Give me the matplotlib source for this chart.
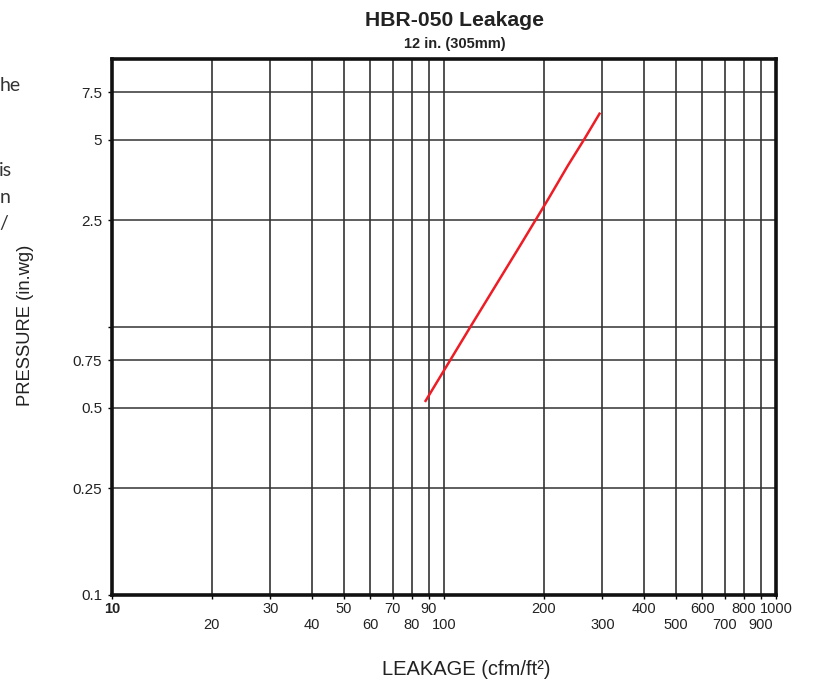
import numpy as np
import matplotlib
matplotlib.use('Agg')
import matplotlib.pyplot as plt
import matplotlib.transforms as mtransforms

plt.rcParams['font.family'] = ['Liberation Sans', 'DejaVu Sans']

# data
leakage = [88, 120, 169, 206, 236, 264, 294]
pressure = [0.53, 1.0, 2.0, 3.0, 4.0, 5.0, 6.25]

x_grid = [20, 30, 40, 50, 60, 70, 80, 90, 100, 200, 300, 400, 500, 600, 700, 800, 900]
x_upper = [10, 30, 50, 70, 90, 200, 400, 600, 800, 1000]
x_lower = [20, 40, 60, 80, 100, 300, 500, 700, 900]
y_ticks = [0.1, 0.25, 0.5, 0.75, 1.0, 2.5, 5, 7.5]
y_labels = ['0.1', '0.25', '0.5', '0.75', '', '2.5', '5', '7.5']

fig = plt.figure(figsize=(8.18, 6.82), dpi=100)
ax = fig.add_axes([0.1369, 0.1276, 0.8118, 0.7859])

ax.set_xscale('log')
ax.set_yscale('log')
ax.set_xlim(10, 1000)
ax.set_ylim(0.1, 10)

# grid
for x in x_grid:
    ax.axvline(x, color='#222222', lw=1.1, zorder=1)
for y in y_ticks[1:]:
    ax.axhline(y, color='#333333', lw=1.1, zorder=1)

ax.plot(leakage, pressure, color='#ee1c25', lw=1.8, zorder=3)

# axes frame
for s in ax.spines.values():
    s.set_linewidth(2.6)
    s.set_color('#111111')
    s.set_zorder(4)

ax.yaxis.set_major_locator(matplotlib.ticker.FixedLocator(y_ticks))
ax.yaxis.set_minor_locator(matplotlib.ticker.NullLocator())
ax.set_yticklabels(y_labels, fontsize=11, color='#222222')
ax.tick_params(axis='y', length=3, width=1, pad=4)

ax.xaxis.set_major_locator(matplotlib.ticker.FixedLocator(x_upper + x_lower))
ax.xaxis.set_minor_locator(matplotlib.ticker.NullLocator())
ax.set_xticklabels([])
ax.tick_params(axis='x', length=3, width=1)

trans = mtransforms.blended_transform_factory(ax.transData, ax.transAxes)
for x in x_upper:
    ax.text(x, -0.013, str(x), transform=trans, ha='center', va='top',
            fontsize=10.5, color='#222222', fontweight='bold' if x == 10 else 'normal')
for x in x_lower:
    ax.text(x, -0.043, str(x), transform=trans, ha='center', va='top',
            fontsize=10.5, color='#222222')

fig.text(0.031, 0.523, 'PRESSURE (in.wg)', rotation=90, ha='center', va='center',
         fontsize=13.2, color='#222222')
fig.text(0.570, 0.018, 'LEAKAGE (cfm/ft\u00b2)', ha='center', va='center',
         fontsize=14.5, color='#222222')

fig.text(0.556, 0.970, 'HBR-050 Leakage', ha='center', va='center',
         fontsize=15.2, fontweight='bold', color='#222222')
fig.text(0.556, 0.936, '12 in. (305mm)', ha='center', va='center',
         fontsize=10.5, fontweight='bold', color='#222222')

# cropped words from the neighbouring page text
for txt, xx, yy in [('he', -0.001, 0.875), ('is', -0.001, 0.750), ('n', -0.001, 0.710), ('/', -0.001, 0.673)]:
    fig.text(xx, yy, txt, ha='left', va='center', fontsize=14, color='#333333',
             family=['Lato', 'DejaVu Sans'])

fig.savefig('out.png', dpi=100)
